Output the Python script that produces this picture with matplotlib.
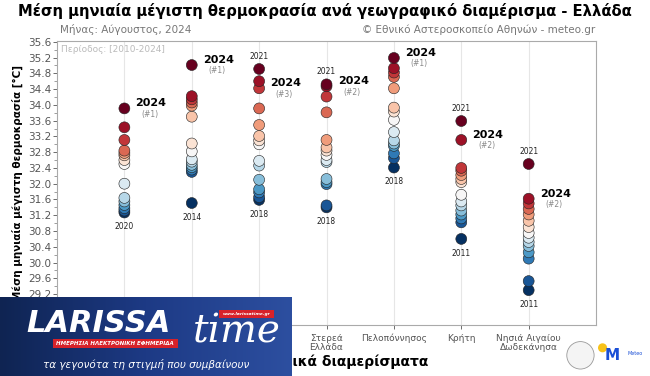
import numpy as np
import matplotlib
matplotlib.use('Agg')
import matplotlib.pyplot as plt
from matplotlib.patches import Rectangle, Ellipse
from matplotlib.colors import LinearSegmentedColormap

plt.rcParams['font.family'] = ['DejaVu Sans']

# data (August max temp per region, 2010-2024, sorted high->low)
regions = ['Μακεδονία\nΘράκη', 'Ήπειρος', 'Θεσσαλία', 'Στερεά\nΕλλάδα',
           'Πελοπόννησος', 'Κρήτη', 'Νησιά Αιγαίου\nΔωδεκάνησα']
vals = [
    [33.91, 33.43, 33.11, 32.84, 32.78, 32.72, 32.60, 32.50, 32.00, 31.64, 31.55, 31.46, 31.38, 31.32, 31.27],
    [35.01, 34.22, 34.14, 34.06, 33.98, 33.70, 33.02, 32.82, 32.62, 32.56, 32.48, 32.42, 32.36, 32.30, 31.51],
    [34.91, 34.60, 34.42, 33.91, 33.49, 33.21, 33.10, 33.00, 32.58, 32.46, 32.10, 31.86, 31.78, 31.66, 31.59],
    [34.52, 34.47, 34.21, 33.81, 33.11, 32.92, 32.84, 32.73, 32.60, 32.55, 32.12, 32.04, 31.99, 31.45, 31.40],
    [35.19, 34.93, 34.82, 34.71, 34.42, 33.93, 33.83, 33.62, 33.31, 33.10, 33.02, 32.96, 32.77, 32.65, 32.41],
    [33.59, 33.11, 32.40, 32.33, 32.22, 32.12, 32.04, 31.72, 31.55, 31.45, 31.32, 31.22, 31.12, 31.02, 30.60],
    [32.50, 31.62, 31.50, 31.36, 31.22, 31.06, 30.90, 30.75, 30.63, 30.52, 30.42, 30.26, 30.10, 29.53, 29.30],
]
rank_2024 = [1, 1, 3, 2, 1, 2, 2]
top_year = [None, None, '2021', '2021', None, '2021', '2021']
bottom_year = ['2020', '2014', '2018', '2018', '2018', '2011', '2011']
yticks = np.arange(29.2, 35.61, 0.4)

fig = plt.figure(figsize=(6.5, 3.76), dpi=100)
ax = fig.add_axes([0.0877, 0.136, 0.8293, 0.755])

cmap = plt.get_cmap('RdBu_r')
for i, v in enumerate(vals):
    v = np.array(v)
    n = len(v)
    cols = [cmap(1 - k / (n - 1)) for k in range(n)]
    # low ones first so the warm ones sit on top
    ax.scatter(np.full(n, i)[::-1], v[::-1], s=62, c=cols[::-1],
               edgecolors='#222222', linewidths=0.4, zorder=3)
    y24 = v[rank_2024[i] - 1]
    ax.annotate('2024', (i, y24), xytext=(8, 0), textcoords='offset points',
                fontsize=8, fontweight='bold', va='bottom', ha='left')
    ax.annotate('(#%d)' % rank_2024[i], (i, y24), xytext=(12, -1), textcoords='offset points',
                fontsize=5.5, color='#888888', va='top', ha='left')
    if top_year[i]:
        ax.annotate(top_year[i], (i, v[0]), xytext=(0, 6), textcoords='offset points',
                    fontsize=5.5, ha='center', va='bottom', color='#222222')
    ax.annotate(bottom_year[i], (i, v[-1]), xytext=(0, -7), textcoords='offset points',
                fontsize=5.5, ha='center', va='top', color='#222222')

ax.set_xlim(-1, 7)
ax.set_ylim(28.42, 35.62)
ax.set_xticks(range(len(regions)))
ax.set_xticklabels(regions, fontsize=6.5, color='#555555', linespacing=1.0)
ax.set_yticks(yticks)
ax.set_yticklabels(['%.1f' % t for t in yticks], fontsize=7.5, color='#333333')
ax.set_yticks(yticks[:-1] + 0.2, minor=True)
ax.grid(axis='x', color='#e6e6e6', lw=0.8, zorder=0)
for s in ax.spines.values():
    s.set_color('#aaaaaa')
ax.tick_params(colors='#555555', length=3, width=0.6)
ax.tick_params(which='minor', length=2, width=0.5, colors='#777777')
ax.tick_params(axis='y', pad=1)
ax.set_ylabel('Μέση μηνιαία μέγιστη θερμοκρασία [°C]', fontsize=7.5, fontweight='bold', labelpad=4)
ax.set_xlabel('Γεωγραφικά διαμερίσματα', fontsize=10, fontweight='bold', labelpad=2)
ax.text(0.008, 0.985, 'Περίοδος: [2010-2024]', transform=ax.transAxes, fontsize=6.5,
        color='#bbbbbb', va='top', ha='left')

fig.text(0.5, 0.972, 'Μέση μηνιαία μέγιστη θερμοκρασία ανά γεωγραφικό διαμέρισμα - Ελλάδα',
         fontsize=10.6, fontweight='bold', ha='center', va='center')
fig.text(0.092, 0.922, 'Μήνας: Αύγουστος, 2024', fontsize=7.5, color='#777777', va='center')
fig.text(0.915, 0.922, '© Εθνικό Αστεροσκοπείο Αθηνών - meteo.gr', fontsize=7.5,
         color='#777777', va='center', ha='right')

# logos bottom right
fig.patches.append(Ellipse((0.893, 0.055), 0.042, 0.073, transform=fig.transFigure,
                           fc='#f4f4f4', ec='#999999', lw=0.6))
fig.patches.append(Ellipse((0.927, 0.075), 0.014, 0.024, transform=fig.transFigure,
                           fc='#f7c21a', ec='none'))
fig.text(0.942, 0.055, 'M', fontsize=11, fontweight='bold', color='#1a4fd6', ha='center', va='center')
fig.text(0.966, 0.06, 'Meteo', fontsize=3.5, color='#1a4fd6', ha='left', va='center')

# newspaper banner overlay bottom-left
ov = fig.add_axes([0, 0, 292 / 650, 79 / 376])
grad = np.linspace(0, 1, 256).reshape(1, -1)
bcm = LinearSegmentedColormap.from_list('b', ['#0f2452', '#1d3a85', '#2d4fa0'])
ov.imshow(grad, aspect='auto', cmap=bcm, extent=[0, 1, 0, 1])
ov.set_xlim(0, 1)
ov.set_ylim(0, 1)
ov.axis('off')
ov.text(0.09, 0.66, 'LARISSA', fontsize=22, fontweight='bold', style='italic', color='white',
        ha='left', va='center')
ov.text(0.66, 0.56, 'time', fontsize=28, style='italic', family='DejaVu Serif', color='white',
        ha='left', va='center')
ov.add_patch(Rectangle((0.18, 0.36), 0.43, 0.11, fc='#d7222a', ec='none'))
ov.text(0.395, 0.415, 'ΗΜΕΡΗΣΙΑ ΗΛΕΚΤΡΟΝΙΚΗ ΕΦΗΜΕΡΙΔΑ', fontsize=4, fontweight='bold',
        style='italic', color='white', ha='center', va='center')
ov.add_patch(Rectangle((0.75, 0.74), 0.19, 0.1, fc='#d7222a', ec='none'))
ov.text(0.845, 0.79, 'www.larissatime.gr', fontsize=3.2, fontweight='bold', style='italic',
        color='white', ha='center', va='center')
ov.text(0.5, 0.14, 'τα γεγονότα τη στιγμή που συμβαίνουν', fontsize=7.5, style='italic',
        color='white', ha='center', va='center')

fig.savefig('out.png', dpi=100)
